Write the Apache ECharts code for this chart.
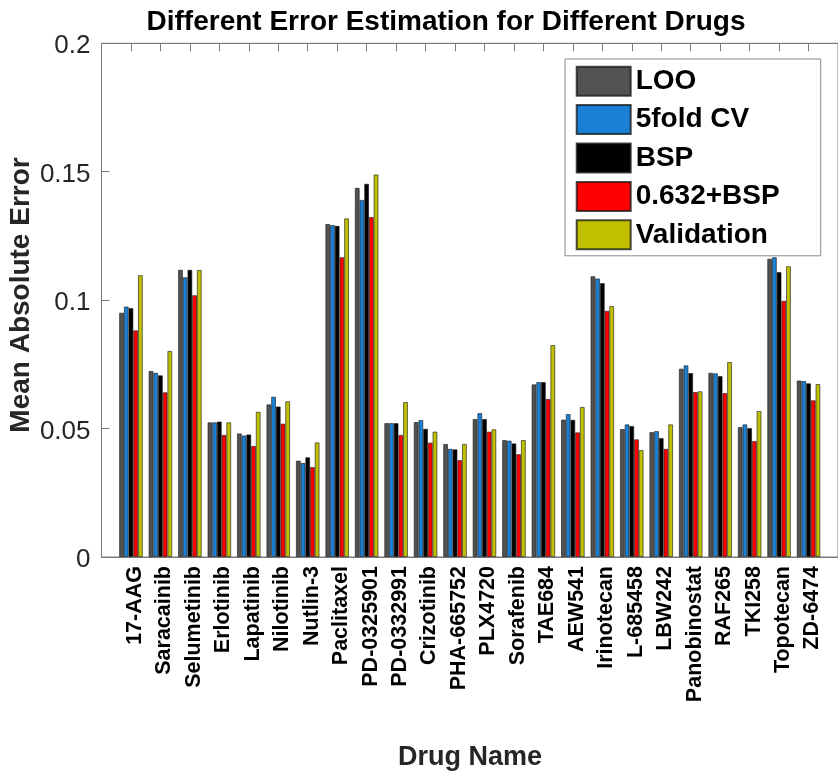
<!DOCTYPE html>
<html>
<head>
<meta charset="utf-8">
<script src="https://cdn.jsdelivr.net/npm/echarts@6/dist/echarts.min.js"></script>
<style>
  html, body { margin: 0; padding: 0; background: #fff; }
  #chart { width: 838px; height: 776px; }
</style>
</head>
<body>
<div id="chart"></div>
<script>
// Drug names along the x axis
const drugs = ['17-AAG', 'Saracainib', 'Selumetinib', 'Erlotinib', 'Lapatinib', 'Nilotinib',
  'Nutlin-3', 'Paclitaxel', 'PD-0325901', 'PD-0332991', 'Crizotinib', 'PHA-665752',
  'PLX4720', 'Sorafenib', 'TAE684', 'AEW541', 'Irinotecan', 'L-685458', 'LBW242',
  'Panobinostat', 'RAF265', 'TKI258', 'Topotecan', 'ZD-6474'];

// Mean absolute error per estimation method
const loo = [0.0951, 0.0724, 0.1118, 0.0524, 0.0481, 0.0594, 0.0375, 0.1296, 0.1437, 0.0521, 0.0525, 0.0440,
  0.0537, 0.0455, 0.0672, 0.0535, 0.1093, 0.0498, 0.0486, 0.0733, 0.0717, 0.0506, 0.1161, 0.0687];
const cv5 = [0.0975, 0.0717, 0.1089, 0.0524, 0.0473, 0.0624, 0.0366, 0.1292, 0.1390, 0.0521, 0.0533, 0.0421,
  0.0560, 0.0453, 0.0681, 0.0556, 0.1084, 0.0516, 0.0490, 0.0746, 0.0715, 0.0516, 0.1167, 0.0685];
const bsp = [0.0969, 0.0707, 0.1118, 0.0527, 0.0477, 0.0586, 0.0388, 0.1289, 0.1453, 0.0521, 0.0499, 0.0419,
  0.0537, 0.0442, 0.0681, 0.0534, 0.1066, 0.0510, 0.0463, 0.0716, 0.0704, 0.0502, 0.1109, 0.0676];
const bsp632 = [0.0882, 0.0641, 0.1019, 0.0475, 0.0432, 0.0519, 0.0350, 0.1167, 0.1323, 0.0475, 0.0445, 0.0377,
  0.0488, 0.0400, 0.0615, 0.0485, 0.0958, 0.0458, 0.0421, 0.0642, 0.0638, 0.0451, 0.0997, 0.0610];
const validation = [0.1097, 0.0802, 0.1117, 0.0524, 0.0565, 0.0606, 0.0446, 0.1318, 0.1489, 0.0603, 0.0488, 0.0440,
  0.0497, 0.0455, 0.0825, 0.0584, 0.0977, 0.0416, 0.0516, 0.0645, 0.0759, 0.0568, 0.1132, 0.0673];

const seriesNames = ['LOO', '5fold CV', 'BSP', '0.632+BSP', 'Validation'];
const seriesValues = [loo, cv5, bsp, bsp632, validation];
const seriesColors = ['#525252', '#1a80d6', '#000000', '#ff0000', '#c0c000'];

// y-axis tick labels
const yTicks = [0, 0.05, 0.1, 0.15, 0.2];
const yTickText = ['0', '0.05', '0.1', '0.15', '0.2'];

const FONT = 'Liberation Sans, Arial, Helvetica, sans-serif';
const AXIS_GREY = '#7a7a7a';

const chart = echarts.init(document.getElementById('chart'), null, { renderer: 'canvas' });

// Drugs sit at positions 1..N on a value axis that runs 0..N+1
const nPos = drugs.length + 1;

const series = seriesNames.map((name, k) => ({
  name: name,
  type: 'bar',
  xAxisIndex: 0,
  yAxisIndex: 0,
  barWidth: 4.7,
  barGap: '0%',
  data: seriesValues[k].map((v, i) => [i + 1, v]),
  itemStyle: {
    color: seriesColors[k],
    borderColor: 'rgba(20,20,20,0.75)',
    borderWidth: 0.8
  },
  emphasis: { disabled: true },
  animation: false
}));

const option = {
  backgroundColor: '#ffffff',
  animation: false,
  title: {
    text: 'Different Error Estimation for Different Drugs',
    left: 446,
    top: 8,
    padding: 0,
    textAlign: 'center',
    textStyle: { fontFamily: FONT, fontSize: 28, fontWeight: 'bold', color: '#000' }
  },
  grid: {
    left: 101.5, top: 43.3, width: 746.7, height: 513.7,
    show: true, borderColor: AXIS_GREY, borderWidth: 1, backgroundColor: 'transparent'
  },
  legend: {
    orient: 'vertical',
    left: 565, top: 59,
    padding: [6.7, 41, 5.5, 10.7],
    itemWidth: 54, itemHeight: 29, itemGap: 7.4,
    icon: 'rect',
    borderColor: '#8a8a8a', borderWidth: 1, backgroundColor: '#ffffff',
    textStyle: { fontFamily: FONT, fontSize: 28, fontWeight: 'bold', color: '#000' },
    data: seriesNames,
    z: 10
  },
  xAxis: [{
    type: 'value', position: 'bottom',
    min: 0, max: nPos, interval: 1,
    axisLine: { show: true, lineStyle: { color: AXIS_GREY, width: 1 } },
    axisTick: { show: true, inside: true, length: 8, lineStyle: { color: AXIS_GREY } },
    splitLine: { show: false },
    axisLabel: {
      rotate: 90, margin: 9,
      fontFamily: FONT, fontSize: 21.5, fontWeight: 'bold', color: '#000',
      showMinLabel: false, showMaxLabel: false,
      formatter: v => (v >= 1 && v <= drugs.length) ? '{d|' + drugs[v - 1] + '}' : '',
      rich: {
        d: { fontFamily: FONT, fontSize: 21.5, fontWeight: 'bold', color: '#000', padding: [8, 0, 0, 0] }
      }
    }
  }, {
    type: 'value', position: 'top',
    min: 0, max: nPos, interval: 1,
    axisLine: { show: true, lineStyle: { color: AXIS_GREY, width: 1 } },
    axisTick: { show: true, inside: true, length: 8, lineStyle: { color: AXIS_GREY } },
    splitLine: { show: false },
    axisLabel: { show: false }
  }],
  yAxis: {
    type: 'value', min: 0, max: 0.2, interval: 0.05,
    axisLine: { show: true, lineStyle: { color: AXIS_GREY, width: 1 } },
    axisTick: { show: true, inside: true, length: 8, lineStyle: { color: AXIS_GREY } },
    splitLine: { show: false },
    axisLabel: {
      margin: 11,
      fontFamily: FONT, fontSize: 26, color: '#262626',
      formatter: v => {
        const idx = yTicks.findIndex(t => Math.abs(t - v) < 1e-9);
        return idx >= 0 ? '{y|' + yTickText[idx] + '}' : '';
      },
      rich: {
        y: { fontFamily: FONT, fontSize: 26, color: '#262626', padding: [6, 0, 0, 0] }
      }
    }
  },
  graphic: [{
    type: 'text',
    x: 21, y: 295,
    rotation: Math.PI / 2,
    style: {
      text: 'Mean Absolute Error',
      font: 'bold 28px ' + FONT,
      fill: '#262626',
      textAlign: 'center',
      textVerticalAlign: 'middle'
    }
  }, {
    type: 'text',
    x: 470, y: 758,
    style: {
      text: 'Drug Name',
      font: 'bold 27px ' + FONT,
      fill: '#262626',
      textAlign: 'center',
      textVerticalAlign: 'middle'
    }
  }],
  series: series
};

chart.setOption(option);
</script>
</body>
</html>
